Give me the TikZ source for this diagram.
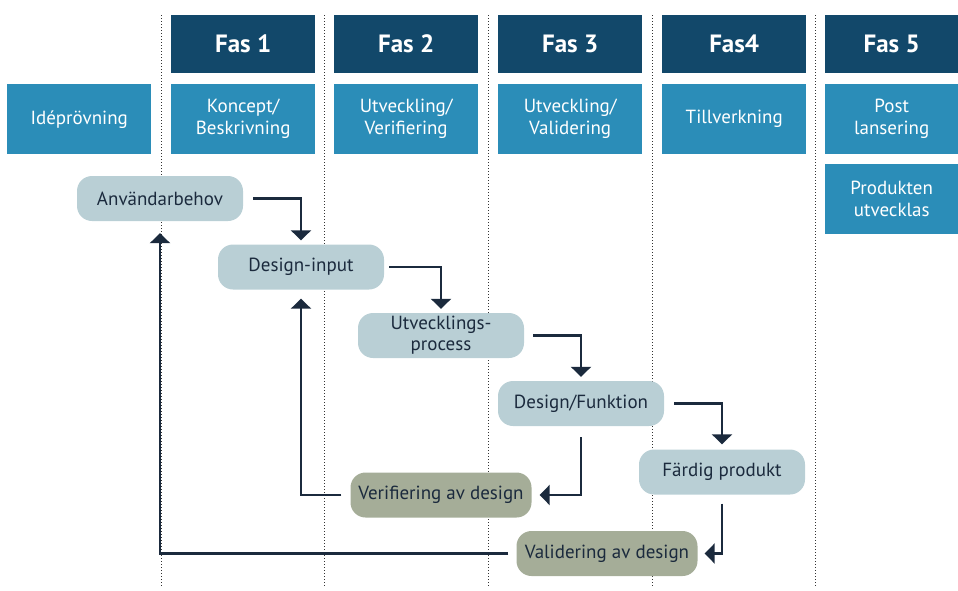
\documentclass[tikz,border=0pt]{standalone}
\usepackage{fontspec}
\setmainfont{PT Sans}
\usetikzlibrary{arrows.meta}
\definecolor{fasdark}{HTML}{12486A}
\definecolor{fasblue}{HTML}{2B8DB8}
\definecolor{steggray}{HTML}{B9CFD5}
\definecolor{stegolive}{HTML}{A5AD98}
\definecolor{pilnavy}{HTML}{1B2A3D}

\tikzset{
  fashead/.style={fill=fasdark, text=white, anchor=north west, inner sep=0pt,
    minimum width=144pt, minimum height=58pt, font=\fontsize{25}{27}\selectfont\bfseries},
  fasbox/.style={fill=fasblue, text=white, anchor=north west, inner sep=0pt, align=center,
    minimum width=144pt, minimum height=70pt, font=\fontsize{19}{22}\selectfont},
  steg/.style={fill=steggray, rounded corners=15pt, inner sep=0pt, align=center,
    minimum width=166pt, minimum height=45pt, text=pilnavy, font=\fontsize{19}{21}\selectfont},
  kontroll/.style={steg, fill=stegolive, minimum width=181pt},
  flow/.style={draw=pilnavy, line width=2.3pt, -{Triangle[width=20pt,length=10pt]}},
  fasgrans/.style={draw=black!80, line width=0.9pt, dash pattern=on 1pt off 2pt}
}

\begin{document}
\begin{tikzpicture}[x=1pt,y=-1pt]
  \useasboundingbox (0,0) rectangle (958,590);

  % phase borders
  \foreach \gx in {161,324,488,652,815}
    \draw[fasgrans] (\gx,15) -- (\gx,587);

  % phase headers
  \node[fashead] (fas1) at (171,15) {Fas 1};
  \node[fashead] (fas2) at (334,15) {Fas 2};
  \node[fashead] (fas3) at (498,15) {Fas 3};
  \node[fashead] (fas4) at (662,15) {Fas4};
  \node[fashead, minimum width=133pt] (fas5) at (825,15) {Fas 5};

  % phase contents
  \node[fasbox] (ide) at (7,84) {Idéprövning};
  \node[fasbox] (koncept) at (171,84) {Koncept/\\Beskrivning};
  \node[fasbox] (utvver) at (334,84) {Utveckling/\\Verifiering};
  \node[fasbox] (utvval) at (498,84) {Utveckling/\\Validering};
  \node[fasbox] (tillv) at (662,84) {Tillverkning};
  \node[fasbox, minimum width=133pt] (post) at (825,84) {Post\\lansering};
  \node[fasbox, minimum width=133pt] (produkten) at (825,164) {Produkten\\utvecklas};

  % process steps
  \node[steg] (anv) at (160,198.5) {Användarbehov};
  \node[steg] (din) at (301,267) {Design-input};
  \node[steg] (uproc) at (441,335.5) {Utvecklings-\\process};
  \node[steg] (dfunk) at (581,403.5) {Design/Funktion};
  \node[steg] (fardig) at (722,472) {Färdig produkt};
  \node[kontroll] (verif) at (441,495) {Verifiering av design};
  \node[kontroll] (valid) at (607,553.5) {Validering av design};

  % flow down the steps
  \draw[flow] ([xshift=10pt]anv.east) -| ([yshift=4pt]din.north);
  \draw[flow] ([xshift=5pt]din.east) -| ([yshift=4pt]uproc.north);
  \draw[flow] ([xshift=9pt]uproc.east) -| ([yshift=4pt]dfunk.north);
  \draw[flow] ([xshift=10pt]dfunk.east) -| ([yshift=5pt]fardig.north);
  \draw[flow] ([yshift=-11pt]dfunk.south) |- ([xshift=8pt]verif.east);
  \draw[flow] ([yshift=-9pt]fardig.south) |- ([xshift=7pt]valid.east);

  % feedback loops
  \draw[flow] ([xshift=-9pt]verif.west) -| ([yshift=-9pt]din.south);
  \draw[flow] ([xshift=-8pt]valid.west) -| ([yshift=-12pt]anv.south);
\end{tikzpicture}
\end{document}
